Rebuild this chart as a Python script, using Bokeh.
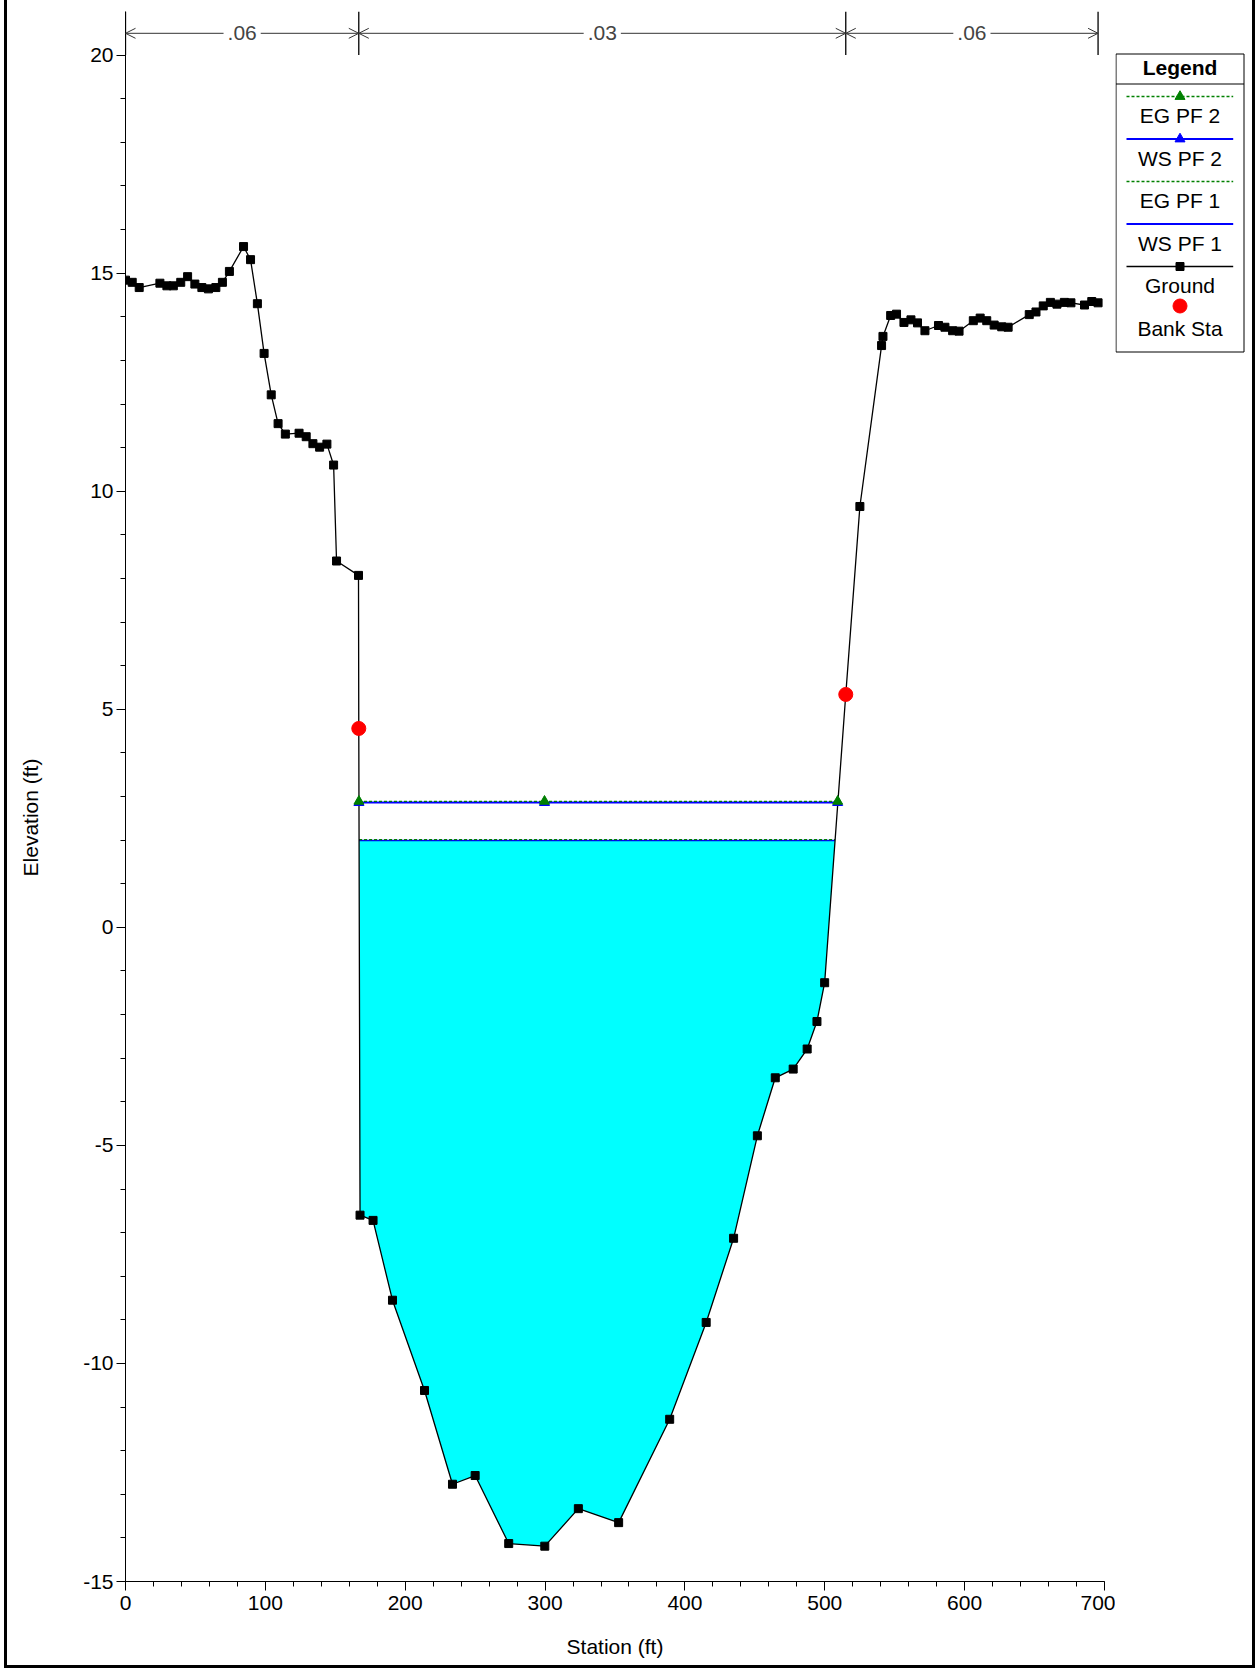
import math
from bokeh.plotting import figure
from bokeh.layouts import row
from bokeh.models import Range1d, Label, Arrow, OpenHead, FixedTicker
from bokeh.core.properties import value
from bokeh.embed import file_html
from bokeh.resources import INLINE

# ---------------- data ----------------
ground_station = [0.0, 4.8, 9.8, 24.6, 29.6, 34.2, 39.5, 44.4, 49.6, 54.6, 59.3, 64.6, 69.3, 74.3,
                  84.4, 89.4, 94.3, 99.1, 104.2, 109.1, 114.3, 124.1, 129.2, 134.0, 138.8, 144.0,
                  148.8, 150.9, 166.6, 166.8, 167.7, 177.0, 190.9, 213.8, 233.8, 250.0, 274.0,
                  299.8, 323.8, 352.6, 389.1, 415.2, 434.8, 451.8, 464.6, 477.4, 487.4, 494.4,
                  499.9, 515.0, 525.1, 540.6, 541.6, 547.1, 551.3, 556.6, 561.6, 566.3, 571.6,
                  581.3, 585.9, 591.4, 596.0, 606.2, 611.1, 615.8, 621.1, 626.5, 631.1, 646.2,
                  651.0, 656.2, 661.3, 666.0, 671.3, 676.0, 685.7, 690.9, 695.4]
ground_elev = [14.84, 14.79, 14.67, 14.77, 14.71, 14.71, 14.79, 14.92, 14.75, 14.67, 14.64, 14.67,
               14.79, 15.04, 15.61, 15.31, 14.30, 13.16, 12.21, 11.55, 11.31, 11.33, 11.25, 11.09,
               11.01, 11.08, 10.60, 8.40, 8.07, 4.56, -6.60, -6.72, -8.55, -10.62, -12.77, -12.57,
               -14.13, -14.19, -13.33, -13.65, -11.28, -9.06, -7.13, -4.78, -3.45, -3.25, -2.79,
               -2.16, -1.27, 5.34, 9.65, 13.34, 13.55, 14.03, 14.06, 13.87, 13.93, 13.86, 13.68,
               13.80, 13.76, 13.68, 13.67, 13.91, 13.97, 13.91, 13.81, 13.77, 13.76, 14.05, 14.11,
               14.25, 14.33, 14.29, 14.33, 14.32, 14.27, 14.35, 14.32]
bank_station = [166.8, 515.0]
bank_elev = [4.56, 5.34]

ws_pf1 = 1.99
eg_pf1 = 2.01
ws_pf2 = 2.86
eg_pf2 = 2.89
pf2_marker_station = [166.9, 299.6, 509.2]

n_station = [0.0, 166.8, 515.0, 695.4]
n_value = [".06", ".03", ".06"]

x_ticks = [0, 100, 200, 300, 400, 500, 600, 700]
x_minor = list(range(0, 701, 20))
y_ticks = [-15, -10, -5, 0, 5, 10, 15, 20]
y_minor = list(range(-15, 21))

legend_labels = ["EG PF 2", "WS PF 2", "EG PF 1", "WS PF 1", "Ground", "Bank Sta"]

# ---------------- layout ----------------
H = 1665
LEFT = 7                                   # page x where the content starts
W_LAB, W_MAIN, W_LEG = 60, 1048, 137
ML, MR, MT, MB = 58, 11, 11, 84
FRAME_TOP, FRAME_BOTTOM = MT, H - MB       # page y of the (aligned) plot frames
X0, X1 = 0.0, 700.0
Y0, Y1 = -15.0, 21.0
FONT = "Liberation Sans"
FS = "21px"
GREEN = "#008000"
BLUE = "#0000FF"

# ---------------- main chart ----------------
p = figure(width=W_MAIN, height=H, x_range=Range1d(X0, X1), y_range=Range1d(Y0, Y1),
           output_backend="svg", toolbar_location=None,
           min_border_left=ML, min_border_right=MR, min_border_top=MT, min_border_bottom=MB)
p.grid.visible = False
p.outline_line_color = None

for ax in (p.xaxis, p.yaxis):
    ax.major_tick_in = 0
    ax.major_tick_out = 9
    ax.minor_tick_in = 0
    ax.minor_tick_out = 5
    ax.major_label_text_font = FONT
    ax.major_label_text_font_size = FS
    ax.major_label_text_color = "black"
    ax.axis_line_color = "black"
    ax.major_tick_line_color = "black"
    ax.minor_tick_line_color = "black"
p.xaxis.major_label_standoff = 5
p.yaxis.major_label_standoff = 3
p.xaxis.ticker = FixedTicker(ticks=x_ticks, minor_ticks=x_minor)
p.yaxis.ticker = FixedTicker(ticks=y_ticks, minor_ticks=y_minor)
p.xaxis.major_label_overrides = {t: str(t) for t in x_ticks}
p.yaxis.major_label_overrides = {t: str(t) for t in y_ticks}
p.xaxis.axis_label = "Station (ft)"
p.xaxis.axis_label_text_font = FONT
p.xaxis.axis_label_text_font_size = FS
p.xaxis.axis_label_text_font_style = "normal"
p.xaxis.axis_label_text_color = "black"
p.xaxis.axis_label_standoff = 22


def crossings(level):
    pts = []
    for i in range(len(ground_station) - 1):
        a, b = ground_elev[i], ground_elev[i + 1]
        if (a - level) * (b - level) < 0:
            t = (level - a) / (b - a)
            pts.append(ground_station[i] + t * (ground_station[i + 1] - ground_station[i]))
    return pts[0], pts[-1]


# water fill under WS PF 1
xl, xr = crossings(ws_pf1)
inside = [(s, e) for s, e in zip(ground_station, ground_elev) if xl < s < xr and e < ws_pf1]
fx = [xl] + [s for s, _ in inside] + [xr]
fy = [ws_pf1] + [e for _, e in inside] + [ws_pf1]
p.patch(fx, fy, fill_color="#00FFFF", line_color=None)

# water surfaces / energy grades
for lev, col, dash, lw in [(ws_pf1, BLUE, "solid", 1.5), (eg_pf1, GREEN, "3 2", 1.3),
                           (ws_pf2, BLUE, "solid", 2), (eg_pf2, GREEN, "3 2", 1.3)]:
    a, b = crossings(lev)
    p.line([a, b], [lev, lev], line_color=col, line_dash=dash, line_width=lw)

# ground
p.line(ground_station, ground_elev, line_color="black", line_width=1.3)
p.scatter(ground_station, ground_elev, marker="square", size=8, fill_color="black", line_color="black")
p.scatter(bank_station, bank_elev, marker="circle", size=14, fill_color="red", line_color="red")
p.scatter(pf2_marker_station, [ws_pf2] * 3, marker="triangle", size=10, fill_color=BLUE, line_color=BLUE)
p.scatter(pf2_marker_station, [eg_pf2] * 3, marker="triangle", size=10, fill_color=GREEN, line_color=GREEN)

# Manning's n annotation
p.segment(x0=n_station, x1=n_station, y0=[20.0] * 4, y1=[21.0] * 4, line_color="black", line_width=1.3)
for i, txt in enumerate(n_value):
    a, b = n_station[i], n_station[i + 1]
    p.add_layout(Arrow(start=OpenHead(size=10, line_width=1, line_color="#333333"),
                       end=OpenHead(size=10, line_width=1, line_color="#333333"),
                       x_start=a, x_end=b, y_start=20.5, y_end=20.5,
                       line_color="#333333", line_width=1))
    p.add_layout(Label(x=(a + b) / 2, y=20.5, text=txt, text_align="center", text_baseline="middle",
                       text_font=FONT, text_font_size=FS, background_fill_color="white",
                       padding=4))

# ---------------- y-axis title panel (page-pixel coordinates) ----------------
yl = figure(width=W_LAB, height=H, x_range=Range1d(LEFT, LEFT + W_LAB),
            y_range=Range1d(FRAME_BOTTOM, FRAME_TOP),
            output_backend="svg", toolbar_location=None, x_axis_type=None, y_axis_type=None,
            min_border=0)
yl.grid.visible = False
yl.outline_line_color = None
yl.text(x=[30], y=[817], text=["Elevation (ft)"], angle=math.pi / 2, text_align="center",
        text_baseline="middle", text_font=value(FONT), text_font_size=value(FS), text_color="black")

# ---------------- legend panel (page-pixel coordinates) ----------------
LG0 = LEFT + W_LAB + W_MAIN
lg = figure(width=W_LEG, height=H, x_range=Range1d(LG0, LG0 + W_LEG),
            y_range=Range1d(FRAME_BOTTOM, FRAME_TOP), output_backend="svg", toolbar_location=None,
            x_axis_type=None, y_axis_type=None, min_border=0)
lg.grid.visible = False
lg.outline_line_color = None

L, R, T, B = 1115.5, 1243.5, 53.5, 351.5
CX = (L + R) / 2
lg.quad(left=L, right=R, top=T, bottom=B, fill_color="white", line_color="black", line_width=1)
lg.segment(x0=[L], x1=[R], y0=[83.5], y1=[83.5], line_color="black", line_width=1)
lg.text(x=[CX], y=[66.5], text=["Legend"], text_align="center", text_baseline="middle",
        text_font=value(FONT), text_font_size=value(FS), text_font_style="bold", text_color="black")
styles = [(GREEN, "3 2", "triangle"), (BLUE, "solid", "triangle"), (GREEN, "3 2", None),
          (BLUE, "solid", None), ("black", "solid", "square"), (None, None, "circle")]
for i, (lab, (col, dash, mk)) in enumerate(zip(legend_labels, styles)):
    ly = 96 + 42.5 * i
    ty = 115 + 42.5 * i
    if col is not None:
        lg.line([1126, 1232.7], [ly, ly], line_color=col, line_dash=dash,
                line_width=2 if col == BLUE else 1.3)
    if mk == "triangle":
        lg.scatter([CX], [ly], marker="triangle", size=10, fill_color=col, line_color=col)
    elif mk == "square":
        lg.scatter([CX], [ly], marker="square", size=8, fill_color="black", line_color="black")
    elif mk == "circle":
        lg.scatter([CX], [ly - 3], marker="circle", size=14, fill_color="red", line_color="red")
    lg.text(x=[CX], y=[ty], text=[lab], text_align="center", text_baseline="middle",
            text_font=value(FONT), text_font_size=value(FS), text_color="black")

layout = row(yl, p, lg)
layout.styles = {"margin-left": "4px",
                 "border-left": "3px solid black", "border-right": "3px solid black",
                 "border-bottom": "3px solid black"}

open("out.html", "w").write(file_html(layout, INLINE))
